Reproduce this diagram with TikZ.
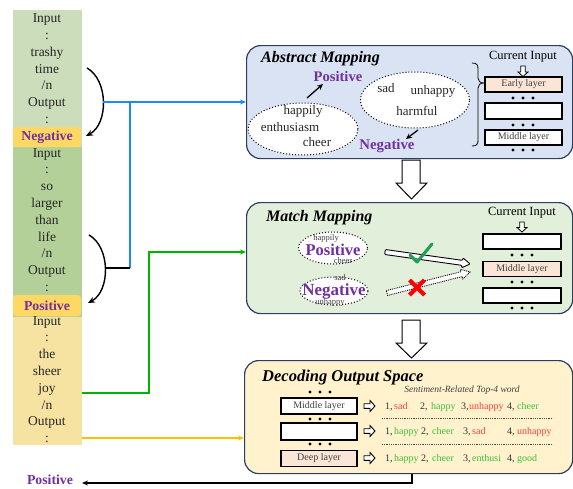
\documentclass[tikz,border=0pt]{standalone}
\usepackage{fontspec}
\setmainfont{Liberation Serif}
\usetikzlibrary{arrows.meta,calc,shapes.geometric}

\definecolor{segA}{RGB}{204,221,187}
\definecolor{segB}{RGB}{179,208,153}
\definecolor{segC}{RGB}{247,227,161}
\definecolor{tagfill}{RGB}{255,216,100}
\definecolor{sentpurple}{RGB}{112,48,160}
\definecolor{absfill}{RGB}{218,227,243}
\definecolor{matchfill}{RGB}{226,239,218}
\definecolor{decfill}{RGB}{255,242,204}
\definecolor{panelborder}{RGB}{44,62,96}
\definecolor{peach}{RGB}{251,229,214}
\definecolor{linkblue}{RGB}{30,136,255}
\definecolor{linkgreen}{RGB}{0,180,0}
\definecolor{linkyellow}{RGB}{255,192,0}
\definecolor{wordred}{RGB}{255,64,64}
\definecolor{wordgreen}{RGB}{60,190,60}
\definecolor{tickgreen}{RGB}{30,160,80}
\definecolor{inkgray}{RGB}{64,64,64}

% three small dots under a layer box
\newcommand\layerdots[2]{\foreach \dx in {-10,0,10} \fill (#1+\dx,#2) circle (1.7pt);}
% small hollow arrow pointing down: x, top y, tip y
\newcommand\hollowdown[3]{\draw[fill=white,line width=0.8pt] (#1-2.2,#2) -- (#1+2.2,#2) -- (#1+2.2,#3-4.5) -- (#1+5,#3-4.5) -- (#1,#3) -- (#1-5,#3-4.5) -- (#1-2.2,#3-4.5) -- cycle;}
% small hollow arrow pointing right: left x, tip x, y
\newcommand\hollowright[3]{\draw[fill=white,line width=0.9pt] (#1,#3-2.3) -- (#2-5,#3-2.3) -- (#2-5,#3-5.5) -- (#2,#3) -- (#2-5,#3+5.5) -- (#2-5,#3+2.3) -- (#1,#3+2.3) -- cycle;}
% big hollow block arrow pointing down: top y, head y, tip y
\newcommand\blockdown[3]{\draw[fill=white,line width=1pt] (402,#1) -- (420,#1) -- (420,#2) -- (427,#2) -- (411.5,#3) -- (396,#2) -- (402,#2) -- cycle;}

\begin{document}
\begin{tikzpicture}[x=1pt,y=-1pt,
  colseg/.style={draw=none,inner sep=0,anchor=north west,minimum width=69pt},
  coltxt/.style={inner sep=0,anchor=base,font=\fontsize{13.5}{16}\selectfont,text=black!85},
  tagbox/.style={fill=tagfill,rounded corners=3pt,inner sep=0,minimum width=68pt,minimum height=20pt,font=\fontsize{13.8}{16}\selectfont\bfseries,text=sentpurple},
  panel/.style={draw=panelborder,line width=1.2pt,rounded corners=14pt,anchor=north west,inner sep=0},
  ptitle/.style={inner sep=0,anchor=base west,font=\fontsize{16}{18}\selectfont\bfseries\itshape},
  layerbox/.style={draw=black,line width=1.1pt,inner sep=0,font=\fontsize{10}{12}\selectfont,text=inkgray},
  wordcloud/.style={ellipse,draw=black,dotted,line width=1pt,fill=white,inner sep=0},
  cword/.style={inner sep=0,font=\fontsize{13}{15}\selectfont,text=black!85},
  tinyword/.style={inner sep=0,font=\fontsize{8.5}{10}\selectfont,text=inkgray},
  senttag/.style={inner sep=0,font=\bfseries,text=sentpurple},
  curinput/.style={inner sep=0,font=\fontsize{12.5}{14}\selectfont},
  rowtxt/.style={inner sep=0,anchor=base west,font=\fontsize{10}{12}\selectfont,text=black!80},
  arr/.style={line width=1.4pt,-{Stealth[length=7pt,width=6pt]}},
  link/.style={line width=1.6pt}
]
\useasboundingbox (0,0) rectangle (573,488);

% ---------- prompt column ----------
\node[colseg,fill=segA,minimum height=137pt] (segA) at (13,10) {};
\node[colseg,fill=segB,minimum height=170pt] (segB) at (13,147) {};
\node[colseg,fill=segC,minimum height=128pt] (segC) at (13,317) {};

\foreach \t [count=\i from 0] in {Input,:,trashy,time,/n,Output,:}
  \node[coltxt] (wa\i) at (47,{18+16.8*\i+4.6}) {\t};
\node[tagbox] (tagneg) at (47,137) {Negative};
\foreach \t [count=\i from 8] in {Input,:,so,larger,than,life,/n,Output,:}
  \node[coltxt] (wb\i) at (47,{18+16.8*\i+4.6}) {\t};
\node[tagbox,minimum height=21pt] (tagpos) at (47,305.5) {Positive};
\foreach \t [count=\i from 18] in {Input,:,the,sheer,joy,/n,Output,:}
  \node[coltxt] (wc\i) at (47,{18+16.8*\i+4.6}) {\t};

% ---------- panels ----------
\node[panel,fill=absfill,minimum width=326pt,minimum height=113pt] (abs) at (246,45) {};
\node[panel,fill=matchfill,minimum width=326pt,minimum height=111pt] (match) at (246,202) {};
\node[panel,fill=decfill,minimum width=328pt,minimum height=113pt] (dec) at (244,360) {};

\blockdown{160}{183}{199}
\blockdown{320}{343}{358}

% ---------- Abstract Mapping ----------
\node[ptitle] (abstitle) at (261,62) {Abstract Mapping};
\node[wordcloud,minimum width=110pt,minimum height=52pt] (poscloud) at (303,129) {};
\node[cword] (w1) at (303,111) {happily};
\node[cword] (w2) at (290,127) {enthusiasm};
\node[cword] (w3) at (317,142) {cheer};
\node[wordcloud,minimum width=109pt,minimum height=56pt] (negcloud) at (415,100) {};
\node[cword] (w4) at (386,88) {sad};
\node[cword] (w5) at (433,91) {unhappy};
\node[cword] (w6) at (417,111) {harmful};
\node[senttag,font=\fontsize{14.6}{16}\selectfont\bfseries] (apos) at (338,77) {Positive};
\node[senttag,font=\fontsize{14.8}{16}\selectfont\bfseries] (aneg) at (387,146) {Negative};
\coordinate (pa0) at (307,98);
\coordinate (pa1) at (323,84);
\coordinate (na0) at (418,130);
\coordinate (na1) at (406,139);
\draw[line width=1.3pt,-{Stealth[length=6pt,width=5.5pt]}] (pa0) -- (pa1);
\draw[line width=1.3pt,-{Stealth[length=6pt,width=5.5pt]}] (na0) -- (na1);

\draw[line width=0.8pt] (472,63) .. controls (477,63) and (478,65) .. (478,69) -- (478,78)
  .. controls (478,81) and (480,83) .. (484,83) .. controls (480,83) and (478,85) .. (478,88)
  -- (478,140) .. controls (478,144) and (477,146) .. (472,146);

\node[curinput] (aci) at (523,57) {Current Input};
\hollowdown{523}{66}{76.5}
\node[layerbox,fill=peach,minimum width=77pt,minimum height=15pt] (al1) at (523.5,84.5) {Early layer};
\layerdots{523}{98}
\node[layerbox,fill=white,minimum width=77pt,minimum height=16pt] (al2) at (523.5,111) {};
\layerdots{523}{125}
\node[layerbox,fill=white,minimum width=77pt,minimum height=15pt] (al3) at (523.5,137.5) {Middle layer};
\layerdots{523}{150}

% ---------- Match Mapping ----------
\node[ptitle] (mtitle) at (266,221) {Match Mapping};
\node[wordcloud,minimum width=69pt,minimum height=32pt] (mposcloud) at (333,248) {};
\node[tinyword] (m1) at (326,238) {happily};
\node[senttag,font=\fontsize{16.5}{18}\selectfont\bfseries] (mpos) at (333,250) {Positive};
\node[tinyword] (m2) at (343,261) {cheer};
\node[wordcloud,minimum width=68pt,minimum height=28pt] (mnegcloud) at (334,291) {};
\node[tinyword] (m3) at (340,278) {sad};
\node[senttag,font=\fontsize{17}{19}\selectfont\bfseries] (mneg) at (334,291) {Negative};
\node[tinyword] (m4) at (330,302) {unhappy};

\begin{scope}[shift={(385,252)},rotate=-8.0]
  \draw[fill=white,line width=0.9pt,rounded corners=1pt] (0,-2.5) -- (78,-2.5) -- (78,-5) -- (86,0) -- (78,5) -- (78,2.5) -- (0,2.5) -- cycle;
\end{scope}
\begin{scope}[shift={(387,293)},rotate=14.2]
  \draw[fill=white,line width=0.9pt,densely dotted] (0,-2.5) -- (77,-2.5) -- (77,-5) -- (85.6,0) -- (77,5) -- (77,2.5) -- (0,2.5) -- cycle;
\end{scope}
\draw[tickgreen,line width=3pt,line cap=round,line join=round] (410,255) -- (417,262) -- (432,244);
\draw[red,line width=4pt] (409.5,280) -- (424.5,295) (424.5,280) -- (409.5,295);

\node[curinput] (mci) at (522,213) {Current Input};
\hollowdown{522}{222}{232}
\node[layerbox,fill=white,minimum width=78pt,minimum height=15pt] (ml1) at (522,241.5) {};
\layerdots{522}{255}
\node[layerbox,fill=peach,minimum width=78pt,minimum height=15pt] (ml2) at (522,269) {Middle layer};
\layerdots{522}{282}
\node[layerbox,fill=white,minimum width=78pt,minimum height=15pt] (ml3) at (522,295.5) {};
\layerdots{522}{308}

% ---------- Decoding Output Space ----------
\node[ptitle,font=\fontsize{16.5}{18}\selectfont\bfseries\itshape] (dtitle) at (262,381) {Decoding Output Space};
\node[inner sep=0,font=\fontsize{9.5}{11}\selectfont\itshape,text=inkgray] (dhead) at (462,390) {Sentiment-Related Top-4 word};
\layerdots{320}{392}
\node[layerbox,line width=1.4pt,fill=white,minimum width=76pt,minimum height=16pt] (dl1) at (319,406) {Middle layer};
\layerdots{320}{419}
\node[layerbox,line width=1.4pt,fill=white,minimum width=76pt,minimum height=17pt] (dl2) at (319,431.5) {};
\layerdots{320}{444}
\node[layerbox,line width=1.4pt,fill=peach,minimum width=76pt,minimum height=16pt] (dl3) at (319,458.5) {Deep layer};
\hollowright{364}{375}{406}
\hollowright{364}{375}{431}
\hollowright{364}{375}{458}

\draw[densely dotted,line width=0.8pt,black!70] (382,418) -- (553,418);
\draw[densely dotted,line width=0.8pt,black!70] (382,444) -- (553,444);

% row 1
\node[rowtxt] (r1a) at (385,409.5) {1,};
\node[rowtxt,text=wordred] (r1b) at (394,409.5) {sad};
\node[rowtxt] (r1c) at (420,409.5) {2,};
\node[rowtxt,text=wordgreen] (r1d) at (431,409.5) {happy};
\node[rowtxt] (r1e) at (461,409.5) {3,};
\node[rowtxt,text=wordred] (r1f) at (469,409.5) {unhappy};
\node[rowtxt] (r1g) at (507,409.5) {4,};
\node[rowtxt,text=wordgreen] (r1h) at (517,409.5) {cheer};
% row 2
\node[rowtxt] (r2a) at (385,434.5) {1,};
\node[rowtxt,text=wordgreen] (r2b) at (394,434.5) {happy};
\node[rowtxt] (r2c) at (421,434.5) {2,};
\node[rowtxt,text=wordgreen] (r2d) at (432,434.5) {cheer};
\node[rowtxt] (r2e) at (463,434.5) {3,};
\node[rowtxt,text=wordred] (r2f) at (472,434.5) {sad};
\node[rowtxt] (r2g) at (507,434.5) {4,};
\node[rowtxt,text=wordred] (r2h) at (517,434.5) {unhappy};
% row 3
\node[rowtxt] (r3a) at (385,461.5) {1,};
\node[rowtxt,text=wordgreen] (r3b) at (394,461.5) {happy};
\node[rowtxt] (r3c) at (421,461.5) {2,};
\node[rowtxt,text=wordgreen] (r3d) at (432,461.5) {cheer};
\node[rowtxt] (r3e) at (463,461.5) {3,};
\node[rowtxt,text=wordgreen] (r3f) at (472,461.5) {enthusi};
\node[rowtxt] (r3g) at (507,461.5) {4,};
\node[rowtxt,text=wordgreen] (r3h) at (517,461.5) {good};

% ---------- connectors ----------
\coordinate (ca0) at (87,68);
\coordinate (ca1) at (86,136);
\coordinate (capex1) at (103,102);
\draw[arr] (ca0) .. controls (108.5,80) and (108.5,124) .. (ca1);
\coordinate (cb0) at (89,235);
\coordinate (cb1) at (88,303);
\coordinate (capex2) at (105,268);
\draw[arr] (cb0) .. controls (110.5,247) and (110.5,291) .. (cb1);

\coordinate (bj1) at (130,102);
\coordinate (bj2) at (130,268);
\draw[link,linkblue,-{Stealth[length=6pt,width=5pt]}] (capex1) -- (abs.west |- capex1);
\draw[link,linkblue] (bj1) -- (bj2);
\draw[link,black,line width=2pt] (capex2) -- (bj2);

\coordinate (g0) at (82,393);
\coordinate (gturn) at (149,252);
\draw[link,linkgreen,-{Stealth[length=6pt,width=5pt]}] (g0) -| (gturn) -- (match.west |- gturn);

\coordinate (y0) at (82,438);
\draw[link,linkyellow,-{Stealth[length=6pt,width=5pt]}] (y0) -- (dec.west |- y0);

\node[senttag,font=\fontsize{13.8}{16}\selectfont\bfseries] (outtag) at (50,480) {Positive};
\coordinate (bx) at (412,483);
\coordinate (otip) at (82,483);
\draw[line width=1.4pt,-{Stealth[length=6pt,width=5pt]}] (dec.south -| bx) -- (bx) -- (otip);
\end{tikzpicture}
\end{document}
